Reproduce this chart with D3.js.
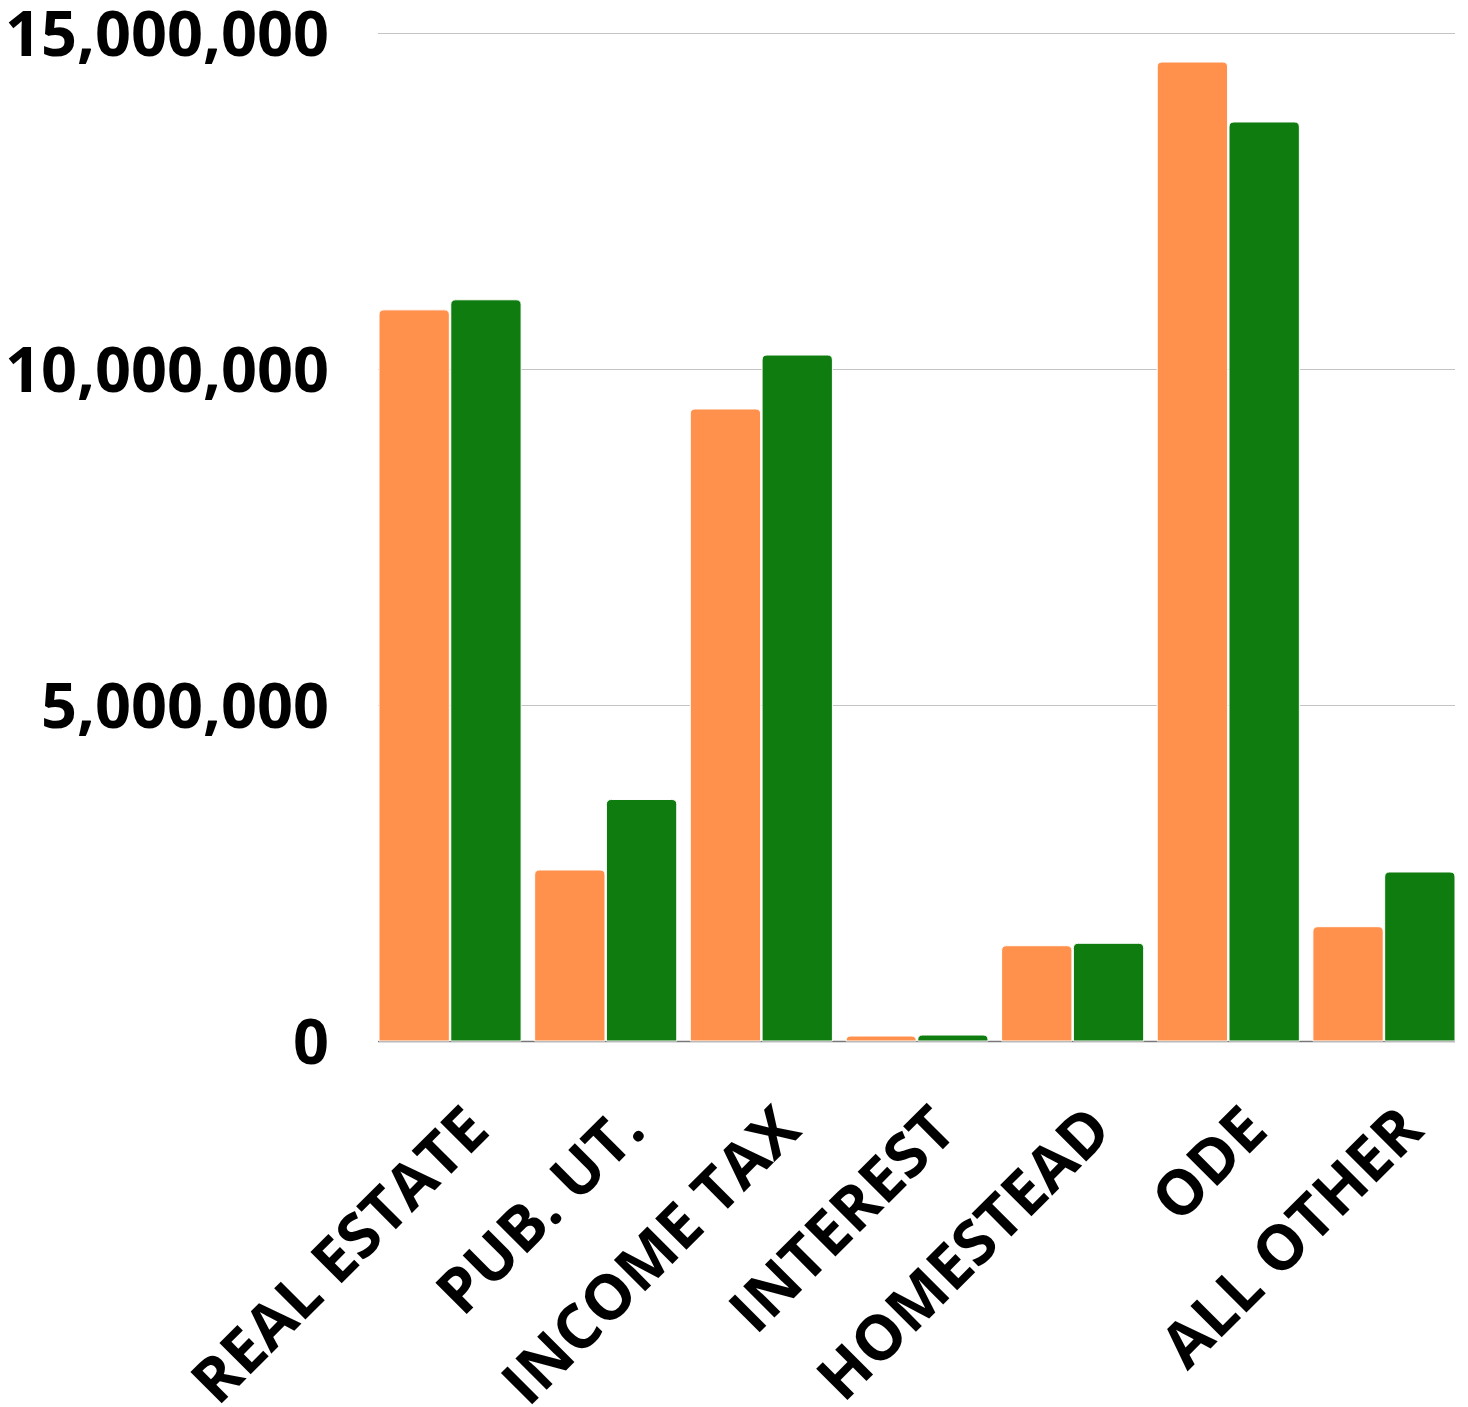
<!DOCTYPE html>
<html>
<head>
<meta charset="utf-8">
<script src="https://cdn.jsdelivr.net/npm/d3@7"></script>
<style>
  html, body { margin: 0; padding: 0; background: #fff; }
  svg text { font-family: "Open Sans", sans-serif; font-weight: 700; fill: #000; }
</style>
</head>
<body>
<svg id="chart" width="1468" height="1407"></svg>
<script>
// Revenue categories and the two series compared in each group
const categories = ["REAL ESTATE", "PUB. UT.", "INCOME TAX", "INTEREST", "HOMESTEAD", "ODE", "ALL OTHER"];
const series1 = [10880000, 2545000, 9405000, 74000, 1418000, 14568000, 1701000];
const series2 = [11030000, 3594000, 10208000, 89000, 1454000, 13676000, 2515000];
const seriesColors = ["#ff914d", "#0e7c0e"];
const yTicks = [0, 5000000, 10000000, 15000000];

const svg = d3.select("#chart");
const plotLeft = 379, plotRight = 1455, plotTop = 33, plotBottom = 1041;

const x0 = d3.scaleBand().domain(categories).range([plotLeft, plotRight])
  .paddingInner(0.087).paddingOuter(0);
const x1 = d3.scaleBand().domain([0, 1]).range([0, x0.bandwidth()]).paddingInner(0.02);
const y = d3.scaleLinear().domain([0, 15000000]).range([plotBottom, plotTop]);

// Horizontal gridlines (offset half a pixel for crisp 1px lines)
svg.append("g").selectAll("line")
  .data(yTicks.filter(d => d > 0))
  .join("line")
  .attr("x1", plotLeft - 1).attr("x2", plotRight)
  .attr("y1", d => y(d) + 0.5).attr("y2", d => y(d) + 0.5)
  .attr("stroke", "#c4c4c4").attr("stroke-width", 1);

// Baseline
svg.append("line")
  .attr("x1", plotLeft - 1).attr("x2", plotRight)
  .attr("y1", y(0) + 0.5).attr("y2", y(0) + 0.5)
  .attr("stroke", "#777").attr("stroke-width", 1.5);

// Y axis tick labels
const fmt = d3.format(",");
svg.append("g").selectAll("text")
  .data(yTicks)
  .join("text")
  .attr("x", 329)
  .attr("y", d => y(d))
  .attr("dy", "0.36em")
  .attr("text-anchor", "end")
  .attr("font-size", 63)
  .text(d => fmt(d));

// Bar with rounded top corners
function barPath(x, yTop, w, h, r) {
  r = Math.min(r, w / 2, h);
  return `M${x},${yTop + h}V${yTop + r}Q${x},${yTop} ${x + r},${yTop}` +
    `H${x + w - r}Q${x + w},${yTop} ${x + w},${yTop + r}V${yTop + h}Z`;
}

const groups = svg.append("g").selectAll("g")
  .data(categories.map((c, i) => ({ c, vals: [series1[i], series2[i]] })))
  .join("g")
  .attr("transform", d => `translate(${x0(d.c)},0)`);

groups.selectAll("path")
  .data(d => d.vals.map((v, k) => ({ v, k })))
  .join("path")
  .attr("d", d => barPath(x1(d.k), y(d.v), x1.bandwidth(), y(0) - y(d.v), 5))
  .attr("fill", d => seriesColors[d.k])
  .attr("stroke", "#fff").attr("stroke-width", 1);

// Rotated category labels
svg.append("g").selectAll("text")
  .data(categories)
  .join("text")
  .attr("text-anchor", "end")
  .attr("font-size", 62)
  .attr("transform", d => `translate(${x0(d) + x0.bandwidth() / 2 + 42},1133) rotate(-45)`)
  .text(d => d);
</script>
</body>
</html>
